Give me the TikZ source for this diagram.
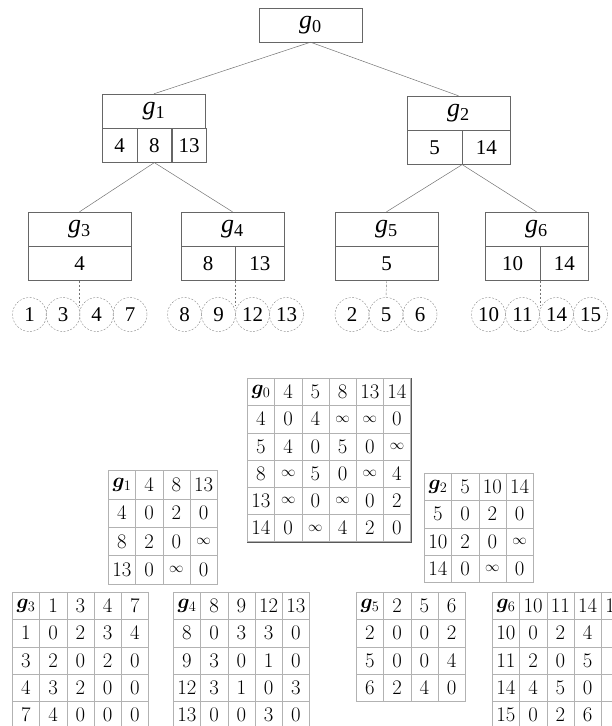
\documentclass[tikz,border=0pt]{standalone}
\usepackage{bm}
\usepackage{fontspec}
\newfontfamily\treefont{Liberation Serif}
\usetikzlibrary{positioning,matrix}

\tikzset{
  gbox/.style={draw=black!60, minimum width=103pt, minimum height=34pt, inner sep=0pt,
    font=\treefont\fontsize{26}{26}\selectfont},
  kbox/.style={draw=black!60, minimum height=34pt, inner sep=0pt,
    font=\treefont\fontsize{21}{21}\selectfont},
  leaf/.style={circle, draw=black!45, dash pattern=on 2pt off 1.5pt, minimum size=34pt,
    inner sep=0pt, font=\treefont\fontsize{21}{21}\selectfont},
  link/.style={draw=black!55, line width=0.5pt},
  dlink/.style={draw=black!55, dash pattern=on 2.5pt off 1.5pt},
  dtab/.style={matrix of math nodes, draw=black!65, inner sep=0pt, anchor=north west,
    column sep=-0.4pt, row sep=-0.4pt,
    nodes={draw=black!30, minimum width=27.2pt, minimum height=27.2pt, inner sep=0pt,
      anchor=center, font=\fontsize{20}{24}\selectfont}},
}
\newcommand{\tg}[1]{\textit{g}\textsubscript{#1}}
\newcommand{\mg}[1]{\bm{g}_{#1}}
\newcommand{\oo}{{\scriptstyle\infty}}

\begin{document}
\begin{tikzpicture}[x=1pt, y=-1pt]
\useasboundingbox (0,0) rectangle (612,726);
\clip (0,0) rectangle (612,726);

% tree of groups
\node[gbox] (g0) at (310.5,25) {\tg{0}};
\node[gbox] (g1) at (154,111) {\tg{1}};
\node[gbox] (g2) at (458.5,113) {\tg{2}};
\node[kbox, minimum width=34.3pt, anchor=north west] (g1a) at (g1.south west) {4};
\node[kbox, minimum width=34.3pt, right=0pt of g1a] (g1b) {8};
\node[kbox, minimum width=34.3pt, right=0pt of g1b] (g1c) {13};
\node[kbox, minimum width=55pt, anchor=north west] (g2a) at (g2.south west) {5};
\node[kbox, minimum width=48pt, right=0pt of g2a] (g2b) {14};

\node[gbox] (g3) at (79.5,229) {\tg{3}};
\node[gbox] (g4) at (232.5,229) {\tg{4}};
\node[gbox] (g5) at (386.5,229) {\tg{5}};
\node[gbox] (g6) at (536.5,229) {\tg{6}};
\node[kbox, minimum width=103pt, anchor=north west] (g3a) at (g3.south west) {4};
\node[kbox, minimum width=54pt, anchor=north west] (g4a) at (g4.south west) {8};
\node[kbox, minimum width=49pt, right=0pt of g4a] (g4b) {13};
\node[kbox, minimum width=103pt, anchor=north west] (g5a) at (g5.south west) {5};
\node[kbox, minimum width=55pt, anchor=north west] (g6a) at (g6.south west) {10};
\node[kbox, minimum width=48pt, right=0pt of g6a] (g6b) {14};

\draw[link] (g0.south) -- (g1.north);
\draw[link] (g0.south) -- (g2.north);
\draw[link] (g1b.south) -- (g3.north);
\draw[link] (g1b.south) -- (g4.north);
\draw[link] (g2a.south east) -- (g5.north);
\draw[link] (g2a.south east) -- (g6.north);

% leaves
\foreach \v/\x in {1/29.5, 3/63, 4/96.5, 7/130,
                   8/184.5, 9/218.5, 12/252.5, 13/286.5,
                   2/352, 5/386, 6/420,
                   10/488.5, 11/522.5, 14/556.5, 15/590.5}
  \node[leaf] (v\v) at (\x,314.5) {\v};

\coordinate (t3) at (80,306);
\coordinate (t4) at (235.5,306);
\coordinate (t6) at (539.5,306);
\draw[dlink] (g3a.south) -- (g3a.south |- t3);
\draw[dlink] (g4a.south east) -- (g4a.south east |- t4);
\draw[dlink] (g5a.south) -- (v5.north);
\draw[dlink] (g6a.south east) -- (g6a.south east |- t6);

% distance tables
\matrix[dtab] (m0) at (247,378) {
  \mg{0} & 4 & 5 & 8 & 13 & 14 \\
  4 & 0 & 4 & \oo & \oo & 0 \\
  5 & 4 & 0 & 5 & 0 & \oo \\
  8 & \oo & 5 & 0 & \oo & 4 \\
  13 & \oo & 0 & \oo & 0 & 2 \\
  14 & 0 & \oo & 4 & 2 & 0 \\
};
\matrix[dtab, nodes={minimum height=28.4pt}] (m1) at (108,470) {
  \mg{1} & 4 & 8 & 13 \\
  4 & 0 & 2 & 0 \\
  8 & 2 & 0 & \oo \\
  13 & 0 & \oo & 0 \\
};
\matrix[dtab] (m2) at (424,473) {
  \mg{2} & 5 & 10 & 14 \\
  5 & 0 & 2 & 0 \\
  10 & 2 & 0 & \oo \\
  14 & 0 & \oo & 0 \\
};
\matrix[dtab] (m3) at (12,592) {
  \mg{3} & 1 & 3 & 4 & 7 \\
  1 & 0 & 2 & 3 & 4 \\
  3 & 2 & 0 & 2 & 0 \\
  4 & 3 & 2 & 0 & 0 \\
  7 & 4 & 0 & 0 & 0 \\
};
\matrix[dtab] (m4) at (173,592) {
  \mg{4} & 8 & 9 & 12 & 13 \\
  8 & 0 & 3 & 3 & 0 \\
  9 & 3 & 0 & 1 & 0 \\
  12 & 3 & 1 & 0 & 3 \\
  13 & 0 & 0 & 3 & 0 \\
};
\matrix[dtab] (m5) at (356,592) {
  \mg{5} & 2 & 5 & 6 \\
  2 & 0 & 0 & 2 \\
  5 & 0 & 0 & 4 \\
  6 & 2 & 4 & 0 \\
};
\matrix[dtab, nodes in empty cells] (m6) at (492,592) {
  \mg{6} & 10 & 11 & 14 & 15 \\
  10 & 0 & 2 & 4 & \\
  11 & 2 & 0 & 5 & \\
  14 & 4 & 5 & 0 & \\
  15 & 0 & 2 & 6 & \\
};
\end{tikzpicture}
\end{document}
